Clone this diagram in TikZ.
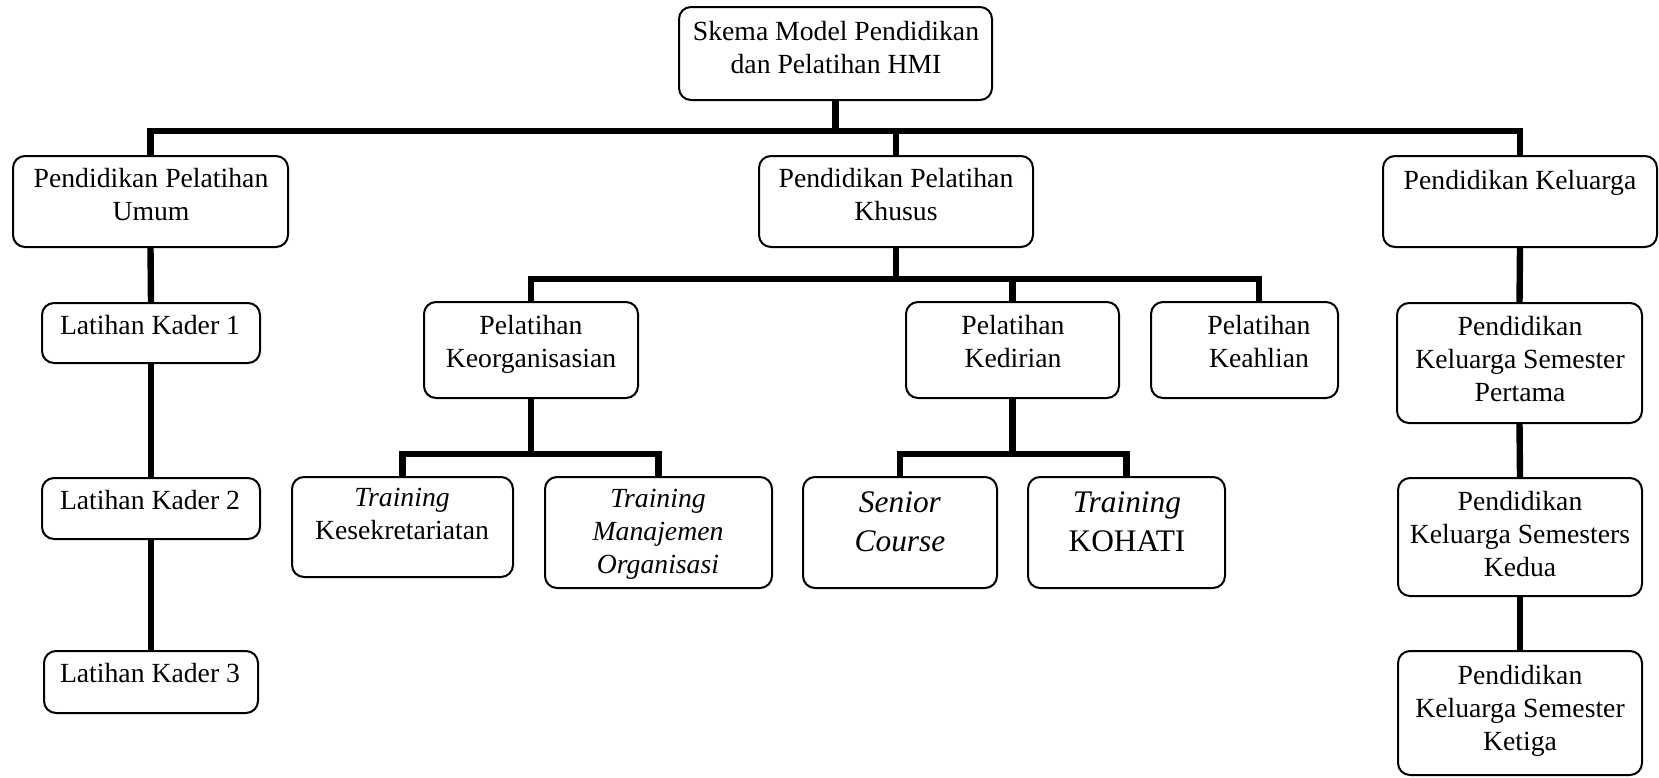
\documentclass[tikz,border=0pt]{standalone}
\usepackage{fontspec}
\setmainfont{Liberation Serif}
\usetikzlibrary{fit}
\begin{document}
\begin{tikzpicture}[x=0.5pt,y=-0.5pt,
  box/.style={draw, line width=1pt, rounded corners=6pt, inner sep=0pt},
  txt/.style={anchor=north, inner sep=0pt, align=center, font=\fontsize{13.85}{16.5}\selectfont},
  big/.style={anchor=north, inner sep=0pt, align=center, font=\fontsize{15.7}{19.5}\selectfont},
  conn/.style={line width=3.2pt}]
\useasboundingbox (0,0) rectangle (1659,777);
% boxes
\node[box, fit={(679,7) (992,100)}] (top) {};
\node[box, fit={(13,156) (288,247)}] (umum) {};
\node[box, fit={(759,156) (1033,247)}] (khusus) {};
\node[box, fit={(1383,156) (1657,247)}] (kel) {};
\node[box, fit={(42,303) (260,363)}] (lk1) {};
\node[box, fit={(42,478) (260,539)}] (lk2) {};
\node[box, fit={(44,651) (258,713)}] (lk3) {};
\node[box, fit={(424,302) (638,398)}] (keorg) {};
\node[box, fit={(906,302) (1119,398)}] (kedir) {};
\node[box, fit={(1151,302) (1338,398)}] (keahl) {};
\node[box, fit={(292,477) (513,577)}] (kesek) {};
\node[box, fit={(545,477) (772,588)}] (manaj) {};
\node[box, fit={(803,477) (997,588)}] (senior) {};
\node[box, fit={(1028,477) (1225,588)}] (kohati) {};
\node[box, fit={(1397,303) (1642,423)}] (sem1) {};
\node[box, fit={(1398,478) (1642,596)}] (sem2) {};
\node[box, fit={(1398,651) (1642,775)}] (sem3) {};
% texts
\node[txt] (top-t) at (836,21) {Skema Model Pendidikan\\dan Pelatihan HMI};
\node[txt] (umum-t) at (151,168) {Pendidikan Pelatihan\\Umum};
\node[txt] (khusus-t) at (896,168) {Pendidikan Pelatihan\\Khusus};
\node[txt] (kel-t) at (1520,170) {Pendidikan Keluarga};
\node[txt] (lk1-t) at (150,315) {Latihan Kader 1};
\node[txt] (lk2-t) at (150,490) {Latihan Kader 2};
\node[txt] (lk3-t) at (150,663) {Latihan Kader 3};
\node[txt] (keorg-t) at (531,315) {Pelatihan\\Keorganisasian};
\node[txt] (kedir-t) at (1013,315) {Pelatihan\\Kedirian};
\node[txt] (keahl-t) at (1259,315) {Pelatihan\\Keahlian};
\node[txt] (sem1-t) at (1520,316) {Pendidikan\\Keluarga Semester\\Pertama};
\node[txt] (sem2-t) at (1520,491) {Pendidikan\\Keluarga Semesters\\Kedua};
\node[txt] (sem3-t) at (1520,665) {Pendidikan\\Keluarga Semester\\Ketiga};
\node[txt] (kesek-t) at (402,488) {\textit{Training}\\Kesekretariatan};
\node[txt] (manaj-t) at (658,489) {\textit{Training}\\\textit{Manajemen}\\\textit{Organisasi}};
\node[big] (senior-t) at (900,491.5) {\textit{Senior}\\\textit{Course}};
\node[big] (kohati-t) at (1127,491.5) {\textit{Training}\\KOHATI};
% connectors
\coordinate (b1) at (0,131);
\coordinate (b2) at (0,279);
\coordinate (b3) at (0,454);
\coordinate (kh) at ([xshift=7.25pt]keahl.north);
\draw[conn] (top.south) -- (top.south |- b1);
\draw[conn] (umum.north) -- (umum.north |- b1) -- (kel.north |- b1) -- (kel.north);
\draw[conn] (khusus.north) -- (khusus.north |- b1);
\draw[conn] (keorg.north) -- (keorg.north |- b2) -- (kh |- b2) -- (kh);
\draw[conn] (khusus.south) -- (khusus.south |- b2);
\draw[conn] (kedir.north) -- (kedir.north |- b2);
\draw[conn] (kesek.north) -- (kesek.north |- b3) -- (manaj.north |- b3) -- (manaj.north);
\draw[conn] (keorg.south) -- (keorg.south |- b3);
\draw[conn] (senior.north) -- (senior.north |- b3) -- (kohati.north |- b3) -- (kohati.north);
\draw[conn] (kedir.south) -- (kedir.south |- b3);
\draw[conn] (umum.south) -- (lk1.north);
\draw[conn] (lk1.south) -- (lk2.north);
\draw[conn] (lk2.south) -- (lk3.north);
\draw[conn] (kel.south) -- (sem1.north);
\draw[conn] (sem1.south) -- (sem2.north);
\draw[conn] (sem2.south) -- (sem3.north);
\end{tikzpicture}
\end{document}
